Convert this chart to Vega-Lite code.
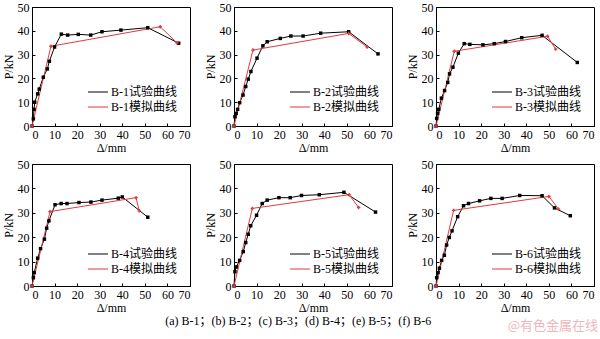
{
  "$schema": "https://vega.github.io/schema/vega-lite/v6.json",
  "padding": {"left": 1, "top": 0, "right": 3, "bottom": 0},
  "background": "white",
  "config": {
    "font": "Liberation Serif, Noto Sans CJK SC",
    "view": {"stroke": "#000000", "strokeWidth": 1},
    "axis": {"grid": false, "domainColor": "#000000", "tickColor": "#000000", "labelColor": "#000000", "titleColor": "#000000", "labelFont": "Liberation Serif", "titleFont": "Liberation Serif", "labelFontSize": 12, "titleFontSize": 12, "titleFontWeight": "normal", "tickSize": -3, "labelPadding": 6, "titlePadding": 2},
    "legend": {"orient": "none", "legendX": 58, "labelFont": "Liberation Serif, Noto Sans CJK SC", "labelFontSize": 12, "labelColor": "#000000", "symbolType": "M-1.33,0H1.33", "symbolSize": 225, "symbolStrokeWidth": 1, "rowPadding": 1, "padding": 0, "labelOffset": 5}
  },
  "datasets": {
    "d": [
      {"p": "a", "s": "B-1试验曲线", "k": "t", "x": 0, "y": 0},
      {"p": "a", "s": "B-1试验曲线", "k": "t", "x": 0.6, "y": 3},
      {"p": "a", "s": "B-1试验曲线", "k": "t", "x": 0.9, "y": 7},
      {"p": "a", "s": "B-1试验曲线", "k": "t", "x": 1.2, "y": 10},
      {"p": "a", "s": "B-1试验曲线", "k": "t", "x": 2.5, "y": 13.5},
      {"p": "a", "s": "B-1试验曲线", "k": "t", "x": 3.2, "y": 15.5},
      {"p": "a", "s": "B-1试验曲线", "k": "t", "x": 5, "y": 20.5},
      {"p": "a", "s": "B-1试验曲线", "k": "t", "x": 6.8, "y": 24},
      {"p": "a", "s": "B-1试验曲线", "k": "t", "x": 7.7, "y": 27.2},
      {"p": "a", "s": "B-1试验曲线", "k": "t", "x": 10, "y": 33.2},
      {"p": "a", "s": "B-1试验曲线", "k": "t", "x": 13, "y": 38.6},
      {"p": "a", "s": "B-1试验曲线", "k": "t", "x": 15.8, "y": 38.2},
      {"p": "a", "s": "B-1试验曲线", "k": "t", "x": 20.5, "y": 38.5},
      {"p": "a", "s": "B-1试验曲线", "k": "t", "x": 26, "y": 38.2},
      {"p": "a", "s": "B-1试验曲线", "k": "t", "x": 31, "y": 39.6},
      {"p": "a", "s": "B-1试验曲线", "k": "t", "x": 39.4, "y": 40.3},
      {"p": "a", "s": "B-1试验曲线", "k": "t", "x": 51.3, "y": 41.3},
      {"p": "a", "s": "B-1试验曲线", "k": "t", "x": 65, "y": 34.8},
      {"p": "a", "s": "B-1模拟曲线", "k": "m", "x": 0, "y": 0},
      {"p": "a", "s": "B-1模拟曲线", "k": "m", "x": 8.4, "y": 33.5},
      {"p": "a", "s": "B-1模拟曲线", "k": "m", "x": 56.8, "y": 41.7},
      {"p": "a", "s": "B-1模拟曲线", "k": "m", "x": 64.2, "y": 35},

      {"p": "b", "s": "B-2试验曲线", "k": "t", "x": 0, "y": 0},
      {"p": "b", "s": "B-2试验曲线", "k": "t", "x": 0.4, "y": 3.9},
      {"p": "b", "s": "B-2试验曲线", "k": "t", "x": 1, "y": 5.3},
      {"p": "b", "s": "B-2试验曲线", "k": "t", "x": 1.6, "y": 7},
      {"p": "b", "s": "B-2试验曲线", "k": "t", "x": 2.5, "y": 9.8},
      {"p": "b", "s": "B-2试验曲线", "k": "t", "x": 4, "y": 13},
      {"p": "b", "s": "B-2试验曲线", "k": "t", "x": 5.2, "y": 16.6},
      {"p": "b", "s": "B-2试验曲线", "k": "t", "x": 6.3, "y": 19.7},
      {"p": "b", "s": "B-2试验曲线", "k": "t", "x": 7.5, "y": 22.9},
      {"p": "b", "s": "B-2试验曲线", "k": "t", "x": 10.2, "y": 28.5},
      {"p": "b", "s": "B-2试验曲线", "k": "t", "x": 12.8, "y": 33.7},
      {"p": "b", "s": "B-2试验曲线", "k": "t", "x": 14.7, "y": 35.4},
      {"p": "b", "s": "B-2试验曲线", "k": "t", "x": 20.5, "y": 36.8},
      {"p": "b", "s": "B-2试验曲线", "k": "t", "x": 25.2, "y": 37.8},
      {"p": "b", "s": "B-2试验曲线", "k": "t", "x": 30.6, "y": 37.8},
      {"p": "b", "s": "B-2试验曲线", "k": "t", "x": 38.4, "y": 39},
      {"p": "b", "s": "B-2试验曲线", "k": "t", "x": 50.8, "y": 39.6},
      {"p": "b", "s": "B-2试验曲线", "k": "t", "x": 63.8, "y": 30.3},
      {"p": "b", "s": "B-2模拟曲线", "k": "m", "x": 0, "y": 0},
      {"p": "b", "s": "B-2模拟曲线", "k": "m", "x": 8.4, "y": 31.9},
      {"p": "b", "s": "B-2模拟曲线", "k": "m", "x": 50.8, "y": 38.9},
      {"p": "b", "s": "B-2模拟曲线", "k": "m", "x": 59, "y": 33.2},

      {"p": "c", "s": "B-3试验曲线", "k": "t", "x": 0, "y": 0},
      {"p": "c", "s": "B-3试验曲线", "k": "t", "x": 0.3, "y": 3.2},
      {"p": "c", "s": "B-3试验曲线", "k": "t", "x": 0.7, "y": 5.3},
      {"p": "c", "s": "B-3试验曲线", "k": "t", "x": 1.2, "y": 7},
      {"p": "c", "s": "B-3试验曲线", "k": "t", "x": 2.4, "y": 11.7},
      {"p": "c", "s": "B-3试验曲线", "k": "t", "x": 3.8, "y": 14.9},
      {"p": "c", "s": "B-3试验曲线", "k": "t", "x": 5.2, "y": 18.3},
      {"p": "c", "s": "B-3试验曲线", "k": "t", "x": 6, "y": 21.9},
      {"p": "c", "s": "B-3试验曲线", "k": "t", "x": 7.5, "y": 24.7},
      {"p": "c", "s": "B-3试验曲线", "k": "t", "x": 9.9, "y": 30.6},
      {"p": "c", "s": "B-3试验曲线", "k": "t", "x": 12.5, "y": 34.6},
      {"p": "c", "s": "B-3试验曲线", "k": "t", "x": 15, "y": 34.3},
      {"p": "c", "s": "B-3试验曲线", "k": "t", "x": 20.8, "y": 34.1},
      {"p": "c", "s": "B-3试验曲线", "k": "t", "x": 25.8, "y": 34.6},
      {"p": "c", "s": "B-3试验曲线", "k": "t", "x": 30.8, "y": 35.5},
      {"p": "c", "s": "B-3试验曲线", "k": "t", "x": 38, "y": 37.1},
      {"p": "c", "s": "B-3试验曲线", "k": "t", "x": 47, "y": 38.1},
      {"p": "c", "s": "B-3试验曲线", "k": "t", "x": 62.6, "y": 26.7},
      {"p": "c", "s": "B-3模拟曲线", "k": "m", "x": 0, "y": 0},
      {"p": "c", "s": "B-3模拟曲线", "k": "m", "x": 8.1, "y": 31.4},
      {"p": "c", "s": "B-3模拟曲线", "k": "m", "x": 49.4, "y": 37.7},
      {"p": "c", "s": "B-3模拟曲线", "k": "m", "x": 53, "y": 32.3},

      {"p": "d", "s": "B-4试验曲线", "k": "t", "x": 0, "y": 0},
      {"p": "d", "s": "B-4试验曲线", "k": "t", "x": 0.6, "y": 3.4},
      {"p": "d", "s": "B-4试验曲线", "k": "t", "x": 1, "y": 5.5},
      {"p": "d", "s": "B-4试验曲线", "k": "t", "x": 2.5, "y": 11.4},
      {"p": "d", "s": "B-4试验曲线", "k": "t", "x": 3.8, "y": 15.3},
      {"p": "d", "s": "B-4试验曲线", "k": "t", "x": 5.5, "y": 19.2},
      {"p": "d", "s": "B-4试验曲线", "k": "t", "x": 6.5, "y": 23.7},
      {"p": "d", "s": "B-4试验曲线", "k": "t", "x": 7.5, "y": 26.7},
      {"p": "d", "s": "B-4试验曲线", "k": "t", "x": 10.2, "y": 33.3},
      {"p": "d", "s": "B-4试验曲线", "k": "t", "x": 12.9, "y": 33.8},
      {"p": "d", "s": "B-4试验曲线", "k": "t", "x": 15.5, "y": 33.8},
      {"p": "d", "s": "B-4试验曲线", "k": "t", "x": 20.8, "y": 34.2},
      {"p": "d", "s": "B-4试验曲线", "k": "t", "x": 26.1, "y": 34.4},
      {"p": "d", "s": "B-4试验曲线", "k": "t", "x": 31, "y": 35.2},
      {"p": "d", "s": "B-4试验曲线", "k": "t", "x": 38.2, "y": 36},
      {"p": "d", "s": "B-4试验曲线", "k": "t", "x": 40, "y": 36.5},
      {"p": "d", "s": "B-4试验曲线", "k": "t", "x": 51.3, "y": 28.2},
      {"p": "d", "s": "B-4模拟曲线", "k": "m", "x": 0, "y": 0},
      {"p": "d", "s": "B-4模拟曲线", "k": "m", "x": 8, "y": 30.5},
      {"p": "d", "s": "B-4模拟曲线", "k": "m", "x": 46.1, "y": 36.2},
      {"p": "d", "s": "B-4模拟曲线", "k": "m", "x": 47.5, "y": 30.8},

      {"p": "e", "s": "B-5试验曲线", "k": "t", "x": 0, "y": 0},
      {"p": "e", "s": "B-5试验曲线", "k": "t", "x": 0.4, "y": 5.9},
      {"p": "e", "s": "B-5试验曲线", "k": "t", "x": 1, "y": 7.8},
      {"p": "e", "s": "B-5试验曲线", "k": "t", "x": 2.5, "y": 10.5},
      {"p": "e", "s": "B-5试验曲线", "k": "t", "x": 4.1, "y": 14.1},
      {"p": "e", "s": "B-5试验曲线", "k": "t", "x": 5.2, "y": 17.8},
      {"p": "e", "s": "B-5试验曲线", "k": "t", "x": 6.3, "y": 21.2},
      {"p": "e", "s": "B-5试验曲线", "k": "t", "x": 7.4, "y": 24.7},
      {"p": "e", "s": "B-5试验曲线", "k": "t", "x": 10, "y": 29},
      {"p": "e", "s": "B-5试验曲线", "k": "t", "x": 12.5, "y": 33.8},
      {"p": "e", "s": "B-5试验曲线", "k": "t", "x": 14.7, "y": 35.2},
      {"p": "e", "s": "B-5试验曲线", "k": "t", "x": 19.9, "y": 36.2},
      {"p": "e", "s": "B-5试验曲线", "k": "t", "x": 24.9, "y": 36.2},
      {"p": "e", "s": "B-5试验曲线", "k": "t", "x": 29.9, "y": 37.1},
      {"p": "e", "s": "B-5试验曲线", "k": "t", "x": 37.8, "y": 37.4},
      {"p": "e", "s": "B-5试验曲线", "k": "t", "x": 48.7, "y": 38.4},
      {"p": "e", "s": "B-5试验曲线", "k": "t", "x": 62.7, "y": 30.3},
      {"p": "e", "s": "B-5模拟曲线", "k": "m", "x": 0, "y": 0},
      {"p": "e", "s": "B-5模拟曲线", "k": "m", "x": 8.1, "y": 31.8},
      {"p": "e", "s": "B-5模拟曲线", "k": "m", "x": 51, "y": 37.4},
      {"p": "e", "s": "B-5模拟曲线", "k": "m", "x": 55.2, "y": 32.2},

      {"p": "f", "s": "B-6试验曲线", "k": "t", "x": 0, "y": 0},
      {"p": "f", "s": "B-6试验曲线", "k": "t", "x": 0.3, "y": 3.4},
      {"p": "f", "s": "B-6试验曲线", "k": "t", "x": 0.9, "y": 5.5},
      {"p": "f", "s": "B-6试验曲线", "k": "t", "x": 1.5, "y": 7.3},
      {"p": "f", "s": "B-6试验曲线", "k": "t", "x": 2.5, "y": 10.5},
      {"p": "f", "s": "B-6试验曲线", "k": "t", "x": 3.7, "y": 12.6},
      {"p": "f", "s": "B-6试验曲线", "k": "t", "x": 4.7, "y": 16.8},
      {"p": "f", "s": "B-6试验曲线", "k": "t", "x": 5.9, "y": 19.9},
      {"p": "f", "s": "B-6试验曲线", "k": "t", "x": 7.1, "y": 22.6},
      {"p": "f", "s": "B-6试验曲线", "k": "t", "x": 9.6, "y": 28.4},
      {"p": "f", "s": "B-6试验曲线", "k": "t", "x": 12.2, "y": 32.9},
      {"p": "f", "s": "B-6试验曲线", "k": "t", "x": 14.4, "y": 33.8},
      {"p": "f", "s": "B-6试验曲线", "k": "t", "x": 19.3, "y": 34.9},
      {"p": "f", "s": "B-6试验曲线", "k": "t", "x": 24.3, "y": 35.9},
      {"p": "f", "s": "B-6试验曲线", "k": "t", "x": 29.3, "y": 35.9},
      {"p": "f", "s": "B-6试验曲线", "k": "t", "x": 37.1, "y": 37.1},
      {"p": "f", "s": "B-6试验曲线", "k": "t", "x": 47, "y": 37},
      {"p": "f", "s": "B-6试验曲线", "k": "t", "x": 52.5, "y": 32},
      {"p": "f", "s": "B-6试验曲线", "k": "t", "x": 59.5, "y": 28.8},
      {"p": "f", "s": "B-6模拟曲线", "k": "m", "x": 0, "y": 0},
      {"p": "f", "s": "B-6模拟曲线", "k": "m", "x": 7.8, "y": 31},
      {"p": "f", "s": "B-6模拟曲线", "k": "m", "x": 50, "y": 36.7},
      {"p": "f", "s": "B-6模拟曲线", "k": "m", "x": 54.3, "y": 31.5}
    ],
    "labels": [
      {"p": "a", "t": "(a)"}, {"p": "b", "t": "(b)"}, {"p": "c", "t": "(c)"},
      {"p": "d", "t": "(d)"}, {"p": "e", "t": "(e)"}, {"p": "f", "t": "(f)"}
    ]
  },
  "title": {"text": "@有色金属在线", "orient": "bottom", "anchor": "end", "offset": -7, "dx": 3, "fontSize": 13, "fontWeight": "normal", "color": "#ebb8bc", "font": "Noto Sans CJK SC"},
  "resolve": {"scale": {"color": "independent", "x": "independent", "y": "independent"}, "legend": {"color": "independent"}},
  "spacing": 3,
  "vconcat": [
    {
      "spacing": 12,
      "resolve": {"scale": {"color": "independent", "x": "independent", "y": "independent"}, "legend": {"color": "independent"}},
      "hconcat": [
        {"width": 158, "height": 119, "data": {"name": "d"},
         "encoding": {"x": {"field": "x", "type": "quantitative", "scale": {"domain": [0, 70]}, "axis": {"values": [0,10,20,30,40,50,60,70], "title": "Δ/mm"}}, "y": {"field": "y", "type": "quantitative", "scale": {"domain": [0, 50]}, "axis": {"values": [0,10,20,30,40,50], "title": "P/kN"}}},
         "layer": [
          {"transform": [{"filter": "datum.p == 'a'"}], "mark": {"type": "line", "strokeWidth": 1}, "encoding": {"color": {"field": "s", "type": "nominal", "scale": {"domain": ["B-1试验曲线", "B-1模拟曲线"], "range": ["#000000", "#e0393e"]}, "legend": {"title": null, "legendY": 77}}}},
          {"transform": [{"filter": "datum.p == 'a'"}], "mark": {"type": "point", "filled": true, "opacity": 1, "size": 12}, "encoding": {"fill": {"field": "k", "type": "nominal", "scale": {"domain": ["t", "m"], "range": ["#000000", "#e0393e"]}, "legend": null}, "shape": {"field": "k", "type": "nominal", "scale": {"domain": ["t", "m"], "range": ["square", "cross"]}, "legend": null}}},
          {"data": {"name": "labels"}, "transform": [{"filter": "datum.p == 'a'"}], "mark": {"type": "text", "align": "left", "baseline": "middle", "fontSize": 12, "font": "Liberation Serif"}, "encoding": {"x": {"datum": 3}, "y": {"datum": 44.5}, "text": {"field": "t"}}}
         ]},
        {"width": 158, "height": 119, "data": {"name": "d"},
         "encoding": {"x": {"field": "x", "type": "quantitative", "scale": {"domain": [0, 70]}, "axis": {"values": [0,10,20,30,40,50,60,70], "title": "Δ/mm"}}, "y": {"field": "y", "type": "quantitative", "scale": {"domain": [0, 50]}, "axis": {"values": [0,10,20,30,40,50], "title": "P/kN"}}},
         "layer": [
          {"transform": [{"filter": "datum.p == 'b'"}], "mark": {"type": "line", "strokeWidth": 1}, "encoding": {"color": {"field": "s", "type": "nominal", "scale": {"domain": ["B-2试验曲线", "B-2模拟曲线"], "range": ["#000000", "#e0393e"]}, "legend": {"title": null, "legendY": 77}}}},
          {"transform": [{"filter": "datum.p == 'b'"}], "mark": {"type": "point", "filled": true, "opacity": 1, "size": 12}, "encoding": {"fill": {"field": "k", "type": "nominal", "scale": {"domain": ["t", "m"], "range": ["#000000", "#e0393e"]}, "legend": null}, "shape": {"field": "k", "type": "nominal", "scale": {"domain": ["t", "m"], "range": ["square", "cross"]}, "legend": null}}},
          {"data": {"name": "labels"}, "transform": [{"filter": "datum.p == 'b'"}], "mark": {"type": "text", "align": "left", "baseline": "middle", "fontSize": 12, "font": "Liberation Serif"}, "encoding": {"x": {"datum": 3}, "y": {"datum": 44.5}, "text": {"field": "t"}}}
         ]},
        {"width": 158, "height": 119, "data": {"name": "d"},
         "encoding": {"x": {"field": "x", "type": "quantitative", "scale": {"domain": [0, 70]}, "axis": {"values": [0,10,20,30,40,50,60,70], "title": "Δ/mm"}}, "y": {"field": "y", "type": "quantitative", "scale": {"domain": [0, 50]}, "axis": {"values": [0,10,20,30,40,50], "title": "P/kN"}}},
         "layer": [
          {"transform": [{"filter": "datum.p == 'c'"}], "mark": {"type": "line", "strokeWidth": 1}, "encoding": {"color": {"field": "s", "type": "nominal", "scale": {"domain": ["B-3试验曲线", "B-3模拟曲线"], "range": ["#000000", "#e0393e"]}, "legend": {"title": null, "legendY": 77}}}},
          {"transform": [{"filter": "datum.p == 'c'"}], "mark": {"type": "point", "filled": true, "opacity": 1, "size": 12}, "encoding": {"fill": {"field": "k", "type": "nominal", "scale": {"domain": ["t", "m"], "range": ["#000000", "#e0393e"]}, "legend": null}, "shape": {"field": "k", "type": "nominal", "scale": {"domain": ["t", "m"], "range": ["square", "cross"]}, "legend": null}}},
          {"data": {"name": "labels"}, "transform": [{"filter": "datum.p == 'c'"}], "mark": {"type": "text", "align": "left", "baseline": "middle", "fontSize": 12, "font": "Liberation Serif"}, "encoding": {"x": {"datum": 3}, "y": {"datum": 44.5}, "text": {"field": "t"}}}
         ]}
      ]
    },
    {
      "spacing": 12,
      "resolve": {"scale": {"color": "independent", "x": "independent", "y": "independent"}, "legend": {"color": "independent"}},
      "title": {"text": "(a) B-1；(b) B-2；(c) B-3；(d) B-4；(e) B-5；(f) B-6", "orient": "bottom", "anchor": "middle", "offset": 2, "fontSize": 12, "fontWeight": "normal", "color": "#000000", "font": "Liberation Serif, Noto Sans CJK SC"},
      "hconcat": [
        {"width": 158, "height": 122, "data": {"name": "d"},
         "encoding": {"x": {"field": "x", "type": "quantitative", "scale": {"domain": [0, 70]}, "axis": {"values": [0,10,20,30,40,50,60,70], "title": "Δ/mm"}}, "y": {"field": "y", "type": "quantitative", "scale": {"domain": [0, 50]}, "axis": {"values": [0,10,20,30,40,50], "title": "P/kN"}}},
         "layer": [
          {"transform": [{"filter": "datum.p == 'd'"}], "mark": {"type": "line", "strokeWidth": 1}, "encoding": {"color": {"field": "s", "type": "nominal", "scale": {"domain": ["B-4试验曲线", "B-4模拟曲线"], "range": ["#000000", "#e0393e"]}, "legend": {"title": null, "legendY": 82}}}},
          {"transform": [{"filter": "datum.p == 'd'"}], "mark": {"type": "point", "filled": true, "opacity": 1, "size": 12}, "encoding": {"fill": {"field": "k", "type": "nominal", "scale": {"domain": ["t", "m"], "range": ["#000000", "#e0393e"]}, "legend": null}, "shape": {"field": "k", "type": "nominal", "scale": {"domain": ["t", "m"], "range": ["square", "cross"]}, "legend": null}}},
          {"data": {"name": "labels"}, "transform": [{"filter": "datum.p == 'd'"}], "mark": {"type": "text", "align": "left", "baseline": "middle", "fontSize": 12, "font": "Liberation Serif"}, "encoding": {"x": {"datum": 3}, "y": {"datum": 44.5}, "text": {"field": "t"}}}
         ]},
        {"width": 158, "height": 122, "data": {"name": "d"},
         "encoding": {"x": {"field": "x", "type": "quantitative", "scale": {"domain": [0, 70]}, "axis": {"values": [0,10,20,30,40,50,60,70], "title": "Δ/mm"}}, "y": {"field": "y", "type": "quantitative", "scale": {"domain": [0, 50]}, "axis": {"values": [0,10,20,30,40,50], "title": "P/kN"}}},
         "layer": [
          {"transform": [{"filter": "datum.p == 'e'"}], "mark": {"type": "line", "strokeWidth": 1}, "encoding": {"color": {"field": "s", "type": "nominal", "scale": {"domain": ["B-5试验曲线", "B-5模拟曲线"], "range": ["#000000", "#e0393e"]}, "legend": {"title": null, "legendY": 82}}}},
          {"transform": [{"filter": "datum.p == 'e'"}], "mark": {"type": "point", "filled": true, "opacity": 1, "size": 12}, "encoding": {"fill": {"field": "k", "type": "nominal", "scale": {"domain": ["t", "m"], "range": ["#000000", "#e0393e"]}, "legend": null}, "shape": {"field": "k", "type": "nominal", "scale": {"domain": ["t", "m"], "range": ["square", "cross"]}, "legend": null}}},
          {"data": {"name": "labels"}, "transform": [{"filter": "datum.p == 'e'"}], "mark": {"type": "text", "align": "left", "baseline": "middle", "fontSize": 12, "font": "Liberation Serif"}, "encoding": {"x": {"datum": 3}, "y": {"datum": 44.5}, "text": {"field": "t"}}}
         ]},
        {"width": 158, "height": 122, "data": {"name": "d"},
         "encoding": {"x": {"field": "x", "type": "quantitative", "scale": {"domain": [0, 70]}, "axis": {"values": [0,10,20,30,40,50,60,70], "title": "Δ/mm"}}, "y": {"field": "y", "type": "quantitative", "scale": {"domain": [0, 50]}, "axis": {"values": [0,10,20,30,40,50], "title": "P/kN"}}},
         "layer": [
          {"transform": [{"filter": "datum.p == 'f'"}], "mark": {"type": "line", "strokeWidth": 1}, "encoding": {"color": {"field": "s", "type": "nominal", "scale": {"domain": ["B-6试验曲线", "B-6模拟曲线"], "range": ["#000000", "#e0393e"]}, "legend": {"title": null, "legendY": 82}}}},
          {"transform": [{"filter": "datum.p == 'f'"}], "mark": {"type": "point", "filled": true, "opacity": 1, "size": 12}, "encoding": {"fill": {"field": "k", "type": "nominal", "scale": {"domain": ["t", "m"], "range": ["#000000", "#e0393e"]}, "legend": null}, "shape": {"field": "k", "type": "nominal", "scale": {"domain": ["t", "m"], "range": ["square", "cross"]}, "legend": null}}},
          {"data": {"name": "labels"}, "transform": [{"filter": "datum.p == 'f'"}], "mark": {"type": "text", "align": "left", "baseline": "middle", "fontSize": 12, "font": "Liberation Serif"}, "encoding": {"x": {"datum": 3}, "y": {"datum": 44.5}, "text": {"field": "t"}}}
         ]}
      ]
    }
  ]
}
